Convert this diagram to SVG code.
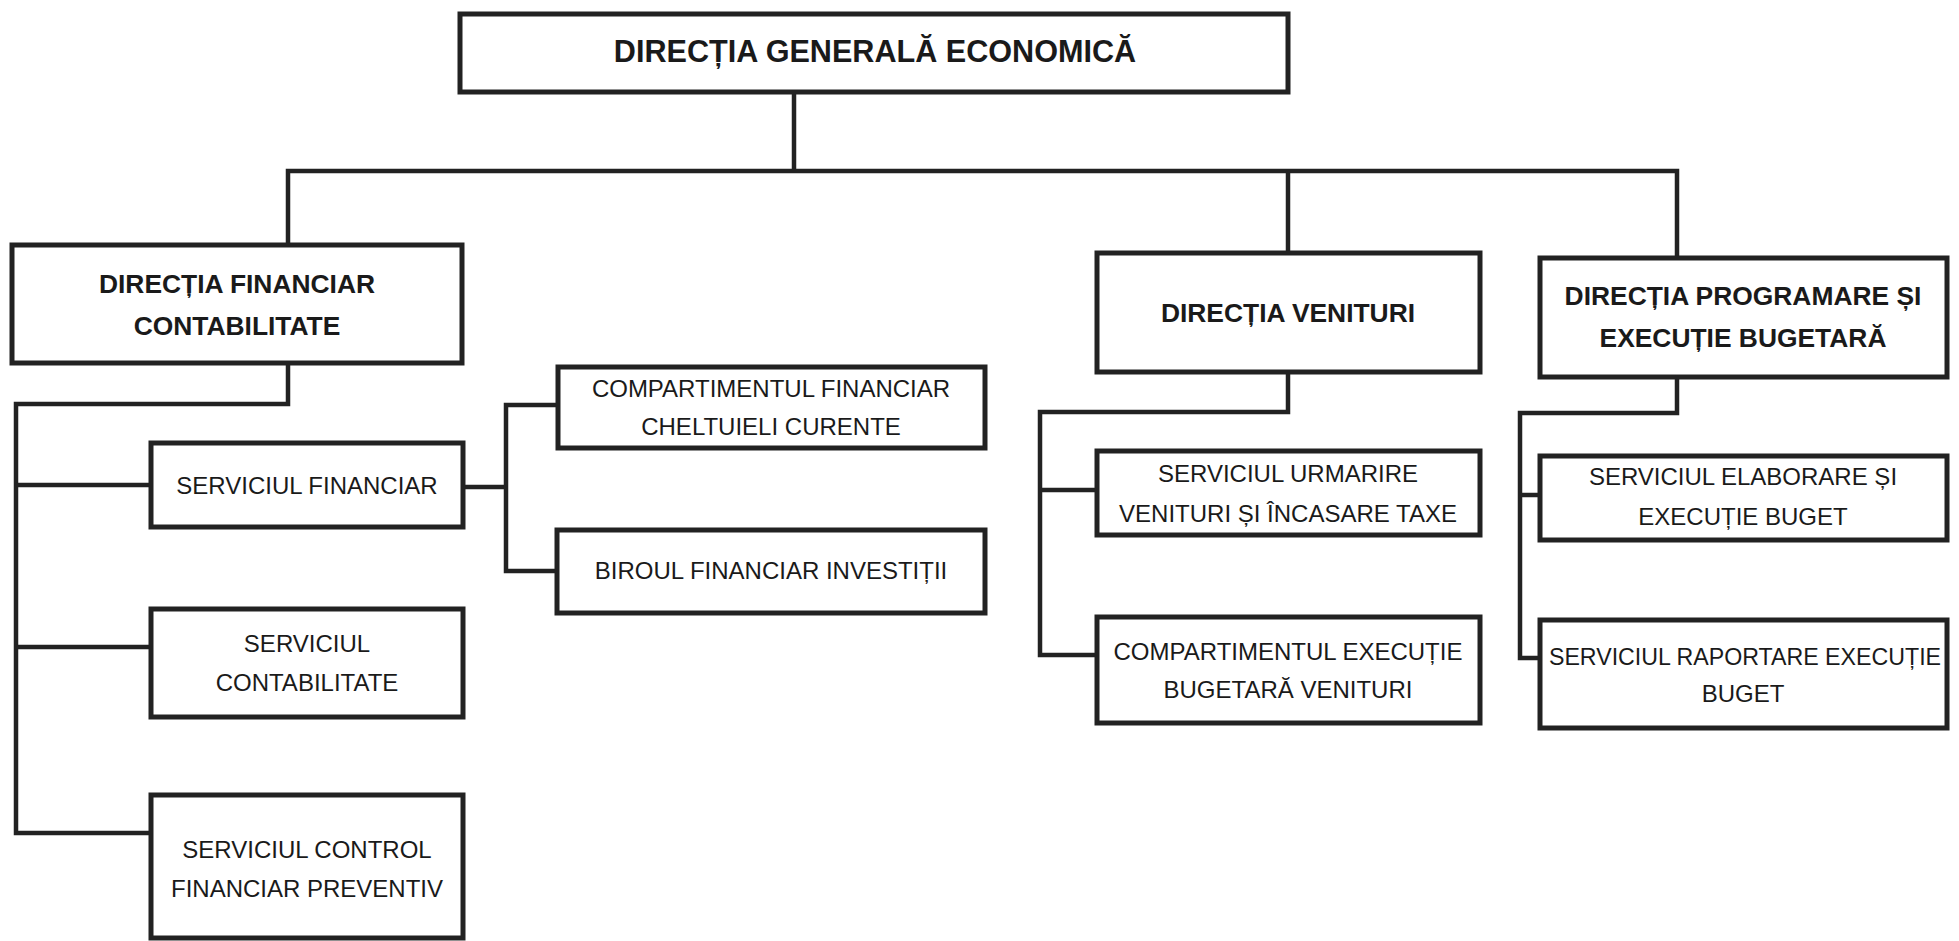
<svg xmlns="http://www.w3.org/2000/svg" width="1959" height="941" viewBox="0 0 1959 941">
<style>
.box{fill:#fff;stroke:#222;stroke-width:5}
.ln{fill:none;stroke:#222;stroke-width:4.5;stroke-linejoin:miter}
.t{font-family:"Liberation Sans",Arial,sans-serif;font-size:24px;fill:#1a1a1a;text-anchor:middle}
.b{font-weight:bold;font-size:26.4px}
.h{font-weight:bold;font-size:30.6px}
</style>
<rect width="1959" height="941" fill="#fff"/>
<g id="connectors">
<path class="ln" d="M794 92 V171"/>
<path class="ln" d="M288 245 V171 H1677 V258"/>
<path class="ln" d="M1288 171 V253"/>
<path class="ln" d="M288 363 V404 H16 V833 H151"/>
<path class="ln" d="M16 485 H151"/>
<path class="ln" d="M16 647 H151"/>
<path class="ln" d="M463 487 H506"/>
<path class="ln" d="M558 405 H506 V571 H557"/>
<path class="ln" d="M1288 372 V412 H1040 V655 H1097"/>
<path class="ln" d="M1040 490 H1097"/>
<path class="ln" d="M1677 377 V413 H1520 V658 H1540"/>
<path class="ln" d="M1520 495 H1540"/>
</g>
<g id="n-dge">
<rect class="box" x="460" y="14" width="828" height="78"/>
<text class="t h" x="875" y="62">DIRECȚIA GENERALĂ ECONOMICĂ</text>
</g>
<g id="n-dfc">
<rect class="box" x="12" y="245" width="450" height="118"/>
<text class="t b" x="237" y="293">DIRECȚIA FINANCIAR</text>
<text class="t b" x="237" y="335">CONTABILITATE</text>
</g>
<g id="n-dv">
<rect class="box" x="1097" y="253" width="383" height="119"/>
<text class="t b" x="1288" y="322">DIRECȚIA VENITURI</text>
</g>
<g id="n-dpeb">
<rect class="box" x="1540" y="258" width="407" height="119"/>
<text class="t b" x="1743" y="305">DIRECȚIA PROGRAMARE ȘI</text>
<text class="t b" x="1743" y="347">EXECUȚIE BUGETARĂ</text>
</g>
<g id="n-sf">
<rect class="box" x="151" y="443" width="312" height="84"/>
<text class="t" x="307" y="494">SERVICIUL FINANCIAR</text>
</g>
<g id="n-cfcc">
<rect class="box" x="558" y="367" width="427" height="81"/>
<text class="t" x="771" y="397">COMPARTIMENTUL FINANCIAR</text>
<text class="t" x="771" y="435">CHELTUIELI CURENTE</text>
</g>
<g id="n-bfi">
<rect class="box" x="557" y="530" width="428" height="83"/>
<text class="t" x="771" y="579">BIROUL FINANCIAR INVESTIȚII</text>
</g>
<g id="n-sc">
<rect class="box" x="151" y="609" width="312" height="108"/>
<text class="t" x="307" y="652">SERVICIUL</text>
<text class="t" x="307" y="691">CONTABILITATE</text>
</g>
<g id="n-scfp">
<rect class="box" x="151" y="795" width="312" height="143"/>
<text class="t" x="307" y="858">SERVICIUL CONTROL</text>
<text class="t" x="307" y="897">FINANCIAR PREVENTIV</text>
</g>
<g id="n-surv">
<rect class="box" x="1097" y="451" width="383" height="84"/>
<text class="t" x="1288" y="482">SERVICIUL URMARIRE</text>
<text class="t" x="1288" y="522">VENITURI ȘI ÎNCASARE TAXE</text>
</g>
<g id="n-cebv">
<rect class="box" x="1097" y="617" width="383" height="106"/>
<text class="t" x="1288" y="660">COMPARTIMENTUL EXECUȚIE</text>
<text class="t" x="1288" y="698">BUGETARĂ VENITURI</text>
</g>
<g id="n-seeb">
<rect class="box" x="1540" y="456" width="407" height="84"/>
<text class="t" x="1743" y="485">SERVICIUL ELABORARE ȘI</text>
<text class="t" x="1743" y="525">EXECUȚIE BUGET</text>
</g>
<g id="n-sreb">
<rect class="box" x="1540" y="620" width="407" height="108"/>
<text class="t" x="1745" y="665" style="font-size:23.2px">SERVICIUL RAPORTARE EXECUȚIE</text>
<text class="t" x="1743" y="702">BUGET</text>
</g>
</svg>
